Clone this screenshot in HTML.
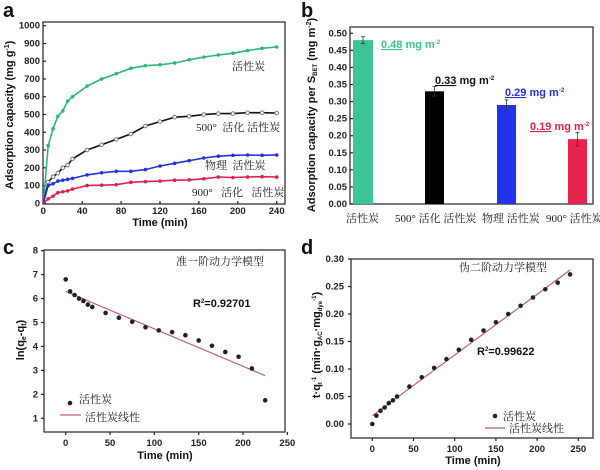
<!DOCTYPE html>
<html><head><meta charset="utf-8"><style>
html,body{margin:0;padding:0;background:#fff;width:600px;height:470px;overflow:hidden}
svg{display:block}
.t{font-family:"Liberation Sans",sans-serif;font-weight:bold;font-size:9.5px;fill:#222}
.cn{font-family:"Liberation Serif","Noto Serif CJK SC",serif;font-size:11px;fill:#222}
.ax{font-family:"Liberation Sans",sans-serif;font-weight:bold;font-size:11px;fill:#111}
.pl{font-family:"Liberation Sans",sans-serif;font-weight:bold;font-size:20px;fill:#111}
</style></head><body>
<svg id="s" width="600" height="470" xmlns="http://www.w3.org/2000/svg">
<text class="pl" x="3" y="17">a</text>
<text class="pl" x="301" y="17">b</text>
<text class="pl" x="3" y="254">c</text>
<text class="pl" x="301" y="254">d</text>
<!-- a -->
<text class="ax" x="160" y="226" text-anchor="middle">Time (min)</text>
<text class="ax" transform="translate(13,115) rotate(-90)" text-anchor="middle">Adsorption capacity (mg g<tspan dy="-4" font-size="7">-1</tspan><tspan dy="4">)</tspan></text>
<text class="cn" x="232" y="70" font-size="10.5">活性炭</text>
<text class="cn" x="196" y="131" font-size="10.5">500°&#160;&#160;活化&#160;活性炭</text>
<text class="cn" x="205" y="169" font-size="10.5">物理&#160;&#160;活性炭</text>
<text class="cn" x="192" y="196" font-size="10.5">900°&#160;&#160;&#160;活化&#160;&#160;&#160;活性炭</text>
<!-- b -->
<text class="ax" transform="translate(315,115) rotate(-90)" text-anchor="middle" font-size="10">Adsorption capacity per S<tspan font-size="6" dy="2">BET</tspan><tspan dy="-2"> (mg m</tspan><tspan dy="-4" font-size="7">-2</tspan><tspan dy="4">)</tspan></text>
<text class="cn" x="346" y="222" font-size="10">活性炭</text>
<text class="cn" x="395" y="222" font-size="10">500°&#160;活化&#160;活性炭</text>
<text class="cn" x="482" y="222" font-size="10">物理&#160;活性炭</text>
<text class="cn" x="546" y="222" font-size="10">900°&#160;活性炭</text>
<text class="ax" x="381" y="48" style="fill:#3cc08a"><tspan text-decoration="underline">0.48</tspan> mg m<tspan dy="-4" font-size="6">-2</tspan></text>
<text class="ax" x="435" y="84" style="fill:#111"><tspan text-decoration="underline">0.33</tspan> mg m<tspan dy="-4" font-size="6">-2</tspan></text>
<text class="ax" x="505" y="96" style="fill:#2233dd"><tspan text-decoration="underline">0.29</tspan> mg m<tspan dy="-4" font-size="6">-2</tspan></text>
<text class="ax" x="530" y="130" style="fill:#e0204a"><tspan text-decoration="underline">0.19</tspan> mg m<tspan dy="-4" font-size="6">-2</tspan></text>
<!-- c -->
<text class="ax" x="165" y="459" text-anchor="middle">Time (min)</text>
<text class="ax" transform="translate(24,340) rotate(-90)" text-anchor="middle">ln(q<tspan font-size="7" dy="2">e</tspan><tspan dy="-2">-q</tspan><tspan font-size="7" dy="2">t</tspan><tspan dy="-2">)</tspan></text>
<text class="cn" x="176" y="265" font-size="13">准一阶动力学模型</text>
<text class="ax" x="193" y="307" font-size="10">R<tspan dy="-4" font-size="6">2</tspan><tspan dy="4">=0.92701</tspan></text>
<text class="cn" x="79" y="403">活性炭</text>
<text class="cn" x="85" y="421">活性炭线性</text>
<!-- d -->
<text class="ax" x="473" y="464" text-anchor="middle">Time (min)</text>
<text class="ax" transform="translate(320,345) rotate(-90)" text-anchor="middle" font-size="10">t·q<tspan font-size="6" dy="2">t</tspan><tspan dy="-6" font-size="6">-1</tspan><tspan dy="4"> (min·g</tspan><tspan font-size="6" dy="2">AC</tspan><tspan dy="-2">·mg</tspan><tspan font-size="6" dy="2">dye</tspan><tspan dy="-6" font-size="6">-1</tspan><tspan dy="4">)</tspan></text>
<text class="cn" x="459" y="271" font-size="13">伪二阶动力学模型</text>
<text class="ax" x="477" y="355" font-size="10">R<tspan dy="-4" font-size="6">2</tspan><tspan dy="4">=0.99622</tspan></text>
<text class="cn" x="503" y="420">活性炭</text>
<text class="cn" x="509" y="432">活性炭线性</text>
<g id="g"></g>
</svg>
<script>
var g=document.getElementById('g'),h='';
function L(a,b,c,d,col,w){h+='<line x1="'+a+'" y1="'+b+'" x2="'+c+'" y2="'+d+'" stroke="'+(col||'#222')+'" stroke-width="'+(w||1.2)+'"/>';}
function T(x,y,s,anc){h+='<text class="t" x="'+x+'" y="'+y+'" text-anchor="'+(anc||'middle')+'">'+s+'</text>';}
function frame(x0,y0,x1,y1){h+='<rect x="'+x0+'" y="'+y0+'" width="'+(x1-x0)+'" height="'+(y1-y0)+'" fill="none" stroke="#333" stroke-width="1.3"/>';}
var ax0=43.3,ax1=276.7,ay0=203.3,ay1=25.7;
function AX(t){return ax0+t/240*(ax1-ax0)} function AY(v){return ay0+v/1000*(ay1-ay0)}
frame(43,22,285,204);
for(var v=0;v<=1000;v+=100){var y=AY(v);L(43,y,46,y);T(40,y+3,v,'end');}
for(var t=0;t<=240;t+=40){var x=AX(t);L(x,204,x,201);T(x,214,t);}
var tt=[0,5,10,15,20,25,30,45,60,75,90,105,120,135,150,165,180,195,210,225,240];
var S=[['#2fb57a',[0,325,420,490,520,575,600,660,700,730,760,775,780,790,808,823,835,845,860,873,880]],
['#111',[0,120,150,170,200,215,250,300,330,360,390,435,460,485,490,500,505,505,510,510,508]],
['#2233dd',[0,100,110,125,130,135,140,160,172,180,180,190,210,225,240,255,265,270,272,270,272]],
['#e0204a',[0,25,40,60,65,70,80,100,102,105,118,122,125,130,132,138,148,145,148,150,148]]];
S.forEach(function(s,k){var p='';for(var i=0;i<tt.length;i++)p+=(i?'L':'M')+AX(tt[i]).toFixed(1)+','+AY(s[1][i]).toFixed(1);
h+='<path d="'+p+'" fill="none" stroke="'+s[0]+'" stroke-width="1.6"/>';
for(var i=1;i<tt.length;i++){var x=AX(tt[i]),y=AY(s[1][i]);
if(k==1)h+='<circle cx="'+x+'" cy="'+y+'" r="1.8" fill="#fff" stroke="#777"/>';else h+='<circle cx="'+x+'" cy="'+y+'" r="1.8" fill="'+s[0]+'"/>';}});
var bx0=350,bx1=593,by0=204,by1=33.3;function BY(v){return by0+v/0.5*(by1-by0)}
frame(bx0,27,bx1,204);
for(var v=0;v<=0.5001;v+=0.05){var y=BY(v);L(bx0,y,bx0+3,y);T(bx0-3,y+3,v.toFixed(2),'end');}
[[353,373,0.48,'#3cc594',0.01],[425,444,0.33,'#000',0.014],[497,516,0.29,'#2233ee',0.015],[568,587,0.19,'#e8234c',0.02]].forEach(function(b){
h+='<rect x="'+b[0]+'" y="'+BY(b[2])+'" width="'+(b[1]-b[0])+'" height="'+(by0-BY(b[2]))+'" fill="'+b[3]+'"/>';
var c=(b[0]+b[1])/2;L(c,BY(b[2]+b[4]),c,BY(b[2]-b[4]),'#333',0.8);L(c-2,BY(b[2]+b[4]),c+2,BY(b[2]+b[4]),'#333',0.8);L(c-2,BY(b[2]-b[4]),c+2,BY(b[2]-b[4]),'#333',0.8);});
var cx0=65.7,cpx=44.33/50;function CX(t){return cx0+t*cpx} function CY(v){return 250.7+(8-v)*23.94}
frame(44,250,285,432);
for(var v=1;v<=8;v++){var y=CY(v);L(44,y,41,y);T(38,y+3,v,'end');}
for(var t=0;t<=250;t+=50){var x=CX(t);L(x,432,x,435);T(x,446,t);}
L(CX(0),CY(6.3),CX(225),CY(2.78),'#c0607e',1.2);
var ct=[0,5,10,15,20,25,30,45,60,75,90,105,120,135,150,165,180,195,210,225],cy=[6.8,6.3,6.15,6.0,5.9,5.75,5.65,5.4,5.2,5.03,4.8,4.67,4.6,4.47,4.25,4.03,3.77,3.57,3.08,1.75];
for(var i=0;i<ct.length;i++)h+='<circle cx="'+CX(ct[i])+'" cy="'+CY(cy[i])+'" r="2.3" fill="#222"/>';
h+='<circle cx="70" cy="403" r="2.3" fill="#222"/>';L(60,415,81,415,'#c0607e',1.2);
var dx0=372.3,dpx=41.2/50;function DX(t){return dx0+t*dpx} function DY(v){return 424+(v/0.3)*(259-424)}
frame(351,259,593,438);
for(var v=0;v<=0.3001;v+=0.05){var y=DY(v);L(351,y,348,y);T(344,y+3,v.toFixed(2),'end');}
for(var t=0;t<=250;t+=50){var x=DX(t);L(x,438,x,441);T(x,452,t);}
L(DX(0),DY(0.015),DX(240),DY(0.28),'#c0607e',1.2);
var dy=[0,0.015,0.024,0.03,0.038,0.043,0.05,0.068,0.085,0.102,0.118,0.135,0.153,0.17,0.185,0.2,0.215,0.23,0.245,0.257,0.272];
for(var i=0;i<tt.length;i++)h+='<circle cx="'+DX(tt[i])+'" cy="'+DY(dy[i])+'" r="2.3" fill="#222"/>';
h+='<circle cx="495" cy="416" r="2.3" fill="#222"/>';L(485,428,505,428,'#c0607e',1.2);
g.innerHTML=h;
</script>
</body></html>
